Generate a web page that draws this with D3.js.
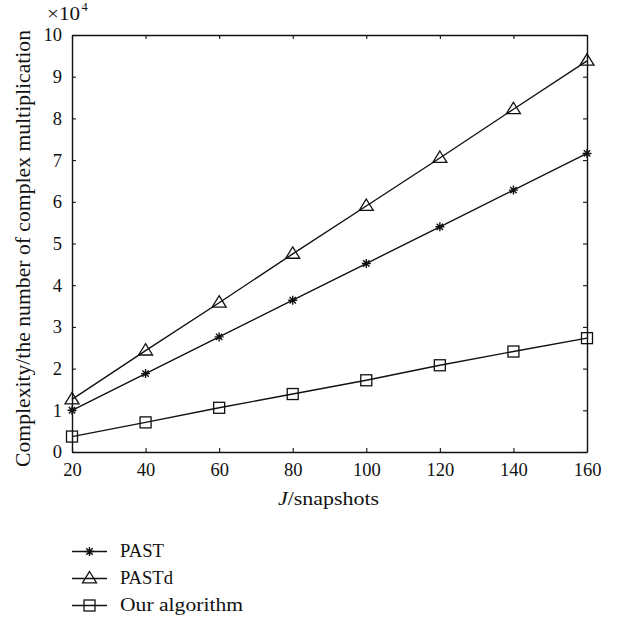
<!DOCTYPE html>
<html>
<head>
<meta charset="utf-8">
<script src="https://cdn.jsdelivr.net/npm/d3@7"></script>
<style>
  html, body { margin: 0; padding: 0; background: #fff; }
  svg { display: block; }
  text { font-family: "Liberation Serif", "Times New Roman", serif; fill: #111; }
</style>
</head>
<body>
<svg id="chart" width="619" height="622"></svg>
<script>
// Snapshot counts on the x axis
const snapshots = [20, 40, 60, 80, 100, 120, 140, 160];
// Complexity in units of 10^4 complex multiplications
const pastValues = [1.0, 1.88, 2.76, 3.64, 4.52, 5.40, 6.28, 7.16];
const pastdValues = [1.26, 2.43, 3.58, 4.75, 5.90, 7.05, 8.22, 9.38];
const oursValues = [0.37, 0.71, 1.06, 1.39, 1.72, 2.08, 2.41, 2.73];
const seriesNames = ["PAST", "PASTd", "Our algorithm"];
const xTicks = [20, 40, 60, 80, 100, 120, 140, 160];
const yTicks = [0, 1, 2, 3, 4, 5, 6, 7, 8, 9, 10];

// Legend label widths for the wider book face look
const legendWidths = [44, 53, 123];

const series = [
  { name: seriesNames[0], values: pastValues, marker: "star" },
  { name: seriesNames[1], values: pastdValues, marker: "triangle" },
  { name: seriesNames[2], values: oursValues, marker: "square" }
];

const svg = d3.select("#chart");
const plot = { left: 72, right: 587, top: 35, bottom: 452 };

const x = d3.scaleLinear().domain([20, 160]).range([plot.left, plot.right]);
const y = d3.scaleLinear().domain([0, 10]).range([plot.bottom, plot.top]);

const ink = "#111";
const tickLen = 4;

// Frame with inward ticks on all four sides
const g = svg.append("g");

const bottomAxis = d3.axisBottom(x).tickValues(xTicks).tickSizeInner(-tickLen).tickSizeOuter(0).tickPadding(11).tickFormat(d3.format("d"));
const leftAxis = d3.axisLeft(y).tickValues(yTicks).tickSizeInner(-tickLen).tickSizeOuter(0).tickPadding(10).tickFormat(d3.format("d"));
const topAxis = d3.axisTop(x).tickValues(xTicks).tickSizeInner(-tickLen).tickSizeOuter(0).tickFormat("");
const rightAxis = d3.axisRight(y).tickValues(yTicks).tickSizeInner(-tickLen).tickSizeOuter(0).tickFormat("");

function styleAxis(sel) {
  sel.select(".domain").attr("stroke", ink).attr("stroke-width", 1.4);
  sel.selectAll(".tick line").attr("stroke", ink).attr("stroke-width", 1.1);
  sel.selectAll(".tick text").attr("fill", ink).style("font-size", "18.5px")
    .style("font-family", "'Liberation Serif', 'Times New Roman', serif");
}

g.append("g").attr("transform", `translate(0,${plot.bottom})`).call(bottomAxis).call(styleAxis);
g.append("g").attr("transform", `translate(${plot.left},0)`).call(leftAxis).call(styleAxis);
g.append("g").attr("transform", `translate(0,${plot.top})`).call(topAxis).call(styleAxis);
g.append("g").attr("transform", `translate(${plot.right},0)`).call(rightAxis).call(styleAxis);

// Multiplier label above the y axis
svg.append("text").attr("x", 47).attr("y", 19.5)
  .attr("textLength", 33).attr("lengthAdjust", "spacingAndGlyphs")
  .style("font-size", "18px").text("×10");
svg.append("text").attr("x", 81.5).attr("y", 10.5)
  .style("font-size", "12.5px").text("4");

// Axis titles
svg.append("text")
  .attr("transform", `translate(30,${248.5}) rotate(-90)`)
  .attr("text-anchor", "middle")
  .attr("textLength", 437)
  .attr("lengthAdjust", "spacingAndGlyphs")
  .style("font-size", "20.5px")
  .text("Complexity/the number of complex multiplication");

const xt = svg.append("text")
  .attr("x", 328.5)
  .attr("y", 505)
  .attr("text-anchor", "middle")
  .attr("textLength", 101)
  .attr("lengthAdjust", "spacingAndGlyphs")
  .style("font-size", "19.5px");
xt.append("tspan").style("font-style", "italic").text("J");
xt.append("tspan").text("/snapshots");

// Marker drawing helpers
function drawMarker(sel, type, cx, cy) {
  if (type === "triangle") {
    const s = 7;
    sel.append("path")
      .attr("d", `M${cx},${cy - s}L${cx + s},${cy + s * 0.62}L${cx - s},${cy + s * 0.62}Z`)
      .attr("fill", "none").attr("stroke", ink).attr("stroke-width", 1.3);
  } else if (type === "square") {
    const s = 5.5;
    sel.append("rect")
      .attr("x", cx - s).attr("y", cy - s).attr("width", 2 * s).attr("height", 2 * s)
      .attr("fill", "none").attr("stroke", ink).attr("stroke-width", 1.3);
  } else {
    const r = 4.5;
    const p = [];
    for (let k = 0; k < 4; k++) {
      const a = k * Math.PI / 4;
      p.push(`M${cx - r * Math.cos(a)},${cy - r * Math.sin(a)}L${cx + r * Math.cos(a)},${cy + r * Math.sin(a)}`);
    }
    sel.append("path").attr("d", p.join("")).attr("stroke", ink).attr("stroke-width", 1.4).attr("fill", "none");
  }
}

const line = d3.line().x((d, i) => x(snapshots[i])).y(d => y(d));

series.forEach(s => {
  const sg = svg.append("g");
  sg.append("path").attr("d", line(s.values))
    .attr("fill", "none").attr("stroke", ink).attr("stroke-width", 1.4);
  s.values.forEach((v, i) => drawMarker(sg, s.marker, x(snapshots[i]), y(v)));
});

// Legend below the plot
const legendBaselines = [557, 584, 611];
series.forEach((s, i) => {
  const base = legendBaselines[i];
  const ly = base - 5.5;
  const lg = svg.append("g");
  lg.append("line").attr("x1", 72).attr("x2", 107).attr("y1", ly).attr("y2", ly)
    .attr("stroke", ink).attr("stroke-width", 1.4);
  drawMarker(lg, s.marker, 89.5, ly);
  lg.append("text").attr("x", 120).attr("y", base)
    .attr("textLength", legendWidths[i]).attr("lengthAdjust", "spacingAndGlyphs")
    .style("font-size", "19px").text(s.name);
});
</script>
</body>
</html>
